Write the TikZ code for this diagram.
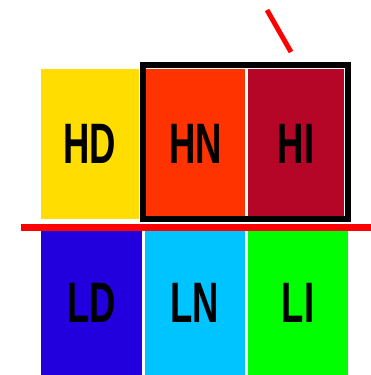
\documentclass[tikz,border=0pt]{standalone}
\usepackage{fontspec}
\setmainfont{Liberation Sans}
\usetikzlibrary{positioning}
\definecolor{hdcol}{HTML}{FFDD00}
\definecolor{hncol}{HTML}{FF3300}
\definecolor{hicol}{HTML}{B50628}
\definecolor{ldcol}{HTML}{2200DD}
\definecolor{lncol}{HTML}{00C4FF}
\definecolor{licol}{HTML}{00FF00}
\newcommand{\narrow}[1]{\scalebox{0.64}[1]{#1}}

\begin{document}
\begin{tikzpicture}[
    x=1pt, y=-1pt,
    cell/.style={minimum height=150pt, inner sep=0pt, font=\fontsize{57}{57}\selectfont\bfseries},
    low/.style={cell, minimum height=144pt, minimum width=100pt},
    frame/.style={line width=6pt},
    cut/.style={red, line width=7pt}
]
\useasboundingbox (0,0) rectangle (371,375);
% top row
\node[cell, fill=hdcol, minimum width=98pt] (hd) at (90,144) {\narrow{HD}};
\node[cell, fill=hncol, minimum width=99pt] (hn) at (195.5,144) {\narrow{HN}};
\node[cell, fill=hicol, minimum width=96pt] (hi) at (296,144) {\narrow{HI}};
% bottom row
\node[low, fill=ldcol, minimum width=101pt] (ld) at (91.5,303) {\narrow{LD}};
\node[low, fill=lncol] (ln) at (195,303) {\narrow{LN}};
\node[low, fill=licol] (li) at (298,303) {\narrow{LI}};
% box round HN and HI
\draw[frame] ([xshift=-3pt,yshift=4pt]hn.north west) rectangle ([xshift=3.5pt]hi.south east);
% red marks
\draw[cut] (21,227.5) -- (371,227.5);
\draw[red, line width=5pt] (267,10) -- (291,52);
\end{tikzpicture}
\end{document}
